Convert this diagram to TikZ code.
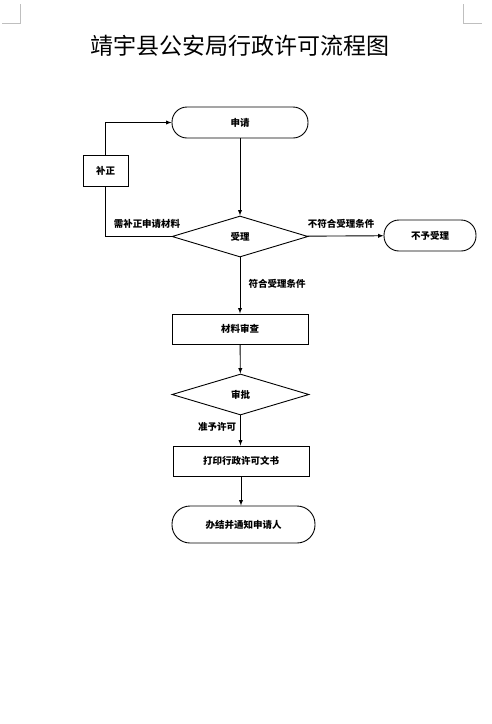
\documentclass[tikz,border=0pt]{standalone}
\usepackage{fontspec}
\setmainfont{Noto Sans CJK SC}
\usetikzlibrary{shapes.geometric, positioning}

\begin{document}
\begin{tikzpicture}[x=1pt, y=-1pt, >=latex, line width=0.9pt,
	term/.style={draw, rounded corners=15pt, minimum width=136pt,
	minimum height=31pt, inner sep=0pt, font=\fontsize{9.5}{11}\selectfont\bfseries},
	boxx/.style={draw, minimum width=136pt, minimum height=30pt, inner sep=0pt,
	font=\fontsize{9.5}{11}\selectfont\bfseries},
	dia/.style={draw, diamond, aspect=3.3, minimum width=136pt, minimum height=41pt,
	inner sep=0pt, font=\fontsize{9.5}{11}\selectfont\bfseries},
	lbl/.style={font=\fontsize{9.5}{11}\selectfont\bfseries, inner sep=0pt}]
\useasboundingbox (0,0) rectangle (492,724);
% page corner marks
\draw[gray!50, line width=0.6pt] (2,23) -- (20,23) -- (20,4);
\draw[gray!50, line width=0.6pt] (463,4) -- (463,23) -- (482,23);
\node[font=\fontsize{23}{27}\selectfont] (title) at (240,46) {靖宇县公安局行政许可流程图};
\node[term] (apply) at (240,122.5) {申请};
\node[boxx, minimum width=45pt, minimum height=31pt] (fix) at (105.5,170.5) {补正};
\node[dia] (accept) at (240,236.5) {受理};
\node[term, minimum width=92pt] (refuse) at (430,235.5) {不予受理};
\node[boxx] (check) at (240,329) {材料审查};
\node[dia, minimum width=137pt] (approve) at (240.5,394.5) {审批};
\node[boxx] (print) at (241,461) {打印行政许可文书};
\node[term, minimum width=143pt, minimum height=37pt, rounded corners=18pt] (finish) at (243.5,524.5) {办结并通知申请人};
\node[lbl] (l1) at (147,224) {需补正申请材料};
\node[lbl] (l2) at (341,224) {不符合受理条件};
\node[lbl] (l3) at (277,284) {符合受理条件};
\node[lbl] (l4) at (217,427) {准予许可};
\draw[->] (apply) -- (accept);
\draw[->] (accept) -- (refuse);
\draw (accept.west) -| (fix.south);
\draw[->] (fix.north) |- (apply.west);
\draw[->] (accept) -- (check);
\draw[->] (check) -- (approve);
\draw[->] (approve) -- (approve |- print.north);
\draw[->] (print) -- (print |- finish.north);
\end{tikzpicture}
\end{document}
